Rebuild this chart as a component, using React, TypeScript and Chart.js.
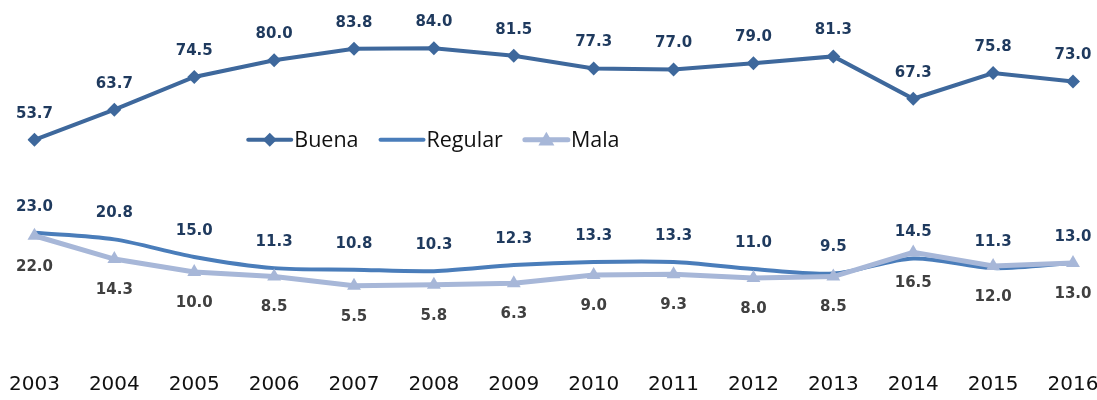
import React, { useEffect, useRef } from "react";
import { Chart, registerables } from "chart.js";

Chart.register(...registerables);

const years = ["2003", "2004", "2005", "2006", "2007", "2008", "2009", "2010", "2011", "2012", "2013", "2014", "2015", "2016"];
const buena = [53.7, 63.7, 74.5, 80.0, 83.8, 84.0, 81.5, 77.3, 77.0, 79.0, 81.3, 67.3, 75.8, 73.0];
const regular = [23.0, 20.8, 15.0, 11.3, 10.8, 10.3, 12.3, 13.3, 13.3, 11.0, 9.5, 14.5, 11.3, 13.0];
const mala = [22.0, 14.3, 10.0, 8.5, 5.5, 5.8, 6.3, 9.0, 9.3, 8.0, 8.5, 16.5, 12.0, 13.0];
const seriesNames = ["Buena", "Regular", "Mala"];

const BUENA_COLOR = "#3E689C";
const REGULAR_COLOR = "#4A7DBA";
const MALA_COLOR = "#A7B7D8";

const labelPlugin = {
  id: "valueLabels",
  afterDatasetsDraw(chart: any) {
    const ctx = chart.ctx;
    ctx.save();
    ctx.font = "bold 15px 'DejaVu Sans'";
    ctx.textAlign = "center";
    ctx.textBaseline = "middle";
    chart.data.datasets.forEach((ds: any, i: number) => {
      const meta = chart.getDatasetMeta(i);
      const below = ds.labelPos === "below";
      ctx.fillStyle = ds.labelColor;
      meta.data.forEach((pt: any, j: number) => {
        const v = ds.data[j] as number;
        const y = below ? pt.y + 31 : pt.y - 26;
        ctx.fillText(v.toFixed(1), pt.x, y);
      });
    });
    ctx.restore();
  },
};

const legendPlugin = {
  id: "customLegend",
  afterDraw(chart: any) {
    const ctx = chart.ctx;
    ctx.save();
    ctx.font = "21.5px 'Open Sans'";
    ctx.textBaseline = "middle";
    ctx.textAlign = "left";
    const lineLen = 43;
    const gapText = 3;
    const gapItem = 22;
    const items = chart.data.datasets.map((ds: any) => ({ ds, w: ctx.measureText(ds.label).width }));
    const total = items.reduce((s: number, it: any) => s + lineLen + gapText + it.w, 0) + gapItem * (items.length - 1);
    const xs = chart.scales.x;
    const cx = xs.getPixelForValue(5);
    const cy = chart.scales.y.getPixelForValue(53.7);
    let x = cx - total / 2;
    items.forEach((it: any) => {
      const ds = it.ds;
      ctx.strokeStyle = ds.borderColor;
      ctx.lineWidth = ds.borderWidth;
      ctx.lineCap = "round";
      ctx.beginPath();
      ctx.moveTo(x, cy);
      ctx.lineTo(x + lineLen, cy);
      ctx.stroke();
      const mx = x + lineLen / 2;
      ctx.fillStyle = ds.borderColor;
      if (ds.pointStyle === "rectRot") {
        const r = 7;
        ctx.beginPath();
        ctx.moveTo(mx, cy - r);
        ctx.lineTo(mx + r, cy);
        ctx.lineTo(mx, cy + r);
        ctx.lineTo(mx - r, cy);
        ctx.closePath();
        ctx.fill();
      } else if (ds.pointStyle === "triangle") {
        const r = 8;
        ctx.beginPath();
        ctx.moveTo(mx, cy - r);
        ctx.lineTo(mx + r, cy + r * 0.7);
        ctx.lineTo(mx - r, cy + r * 0.7);
        ctx.closePath();
        ctx.fill();
      }
      ctx.fillStyle = "#111111";
      ctx.fillText(ds.label, x + lineLen + gapText, cy + 1);
      x += lineLen + gapText + it.w + gapItem;
    });
    ctx.restore();
  },
};

export default function App() {
  const ref = useRef<HTMLCanvasElement | null>(null);

  useEffect(() => {
    if (!ref.current) return;
    const chart = new Chart(ref.current, {
      type: "line",
      data: {
        labels: years,
        datasets: [
          {
            label: seriesNames[0],
            data: buena,
            borderColor: BUENA_COLOR,
            backgroundColor: BUENA_COLOR,
            borderWidth: 4,
            pointStyle: "rectRot",
            pointRadius: 7,
            pointBorderWidth: 0,
            tension: 0,
            order: 2,
            labelColor: "#1F3A5E",
            labelPos: "above",
          } as any,
          {
            label: seriesNames[1],
            data: regular,
            borderColor: REGULAR_COLOR,
            backgroundColor: REGULAR_COLOR,
            borderWidth: 4,
            pointRadius: 0,
            tension: 0.3,
            order: 1,
            labelColor: "#1F3A5E",
            labelPos: "above",
          } as any,
          {
            label: seriesNames[2],
            data: mala,
            borderColor: MALA_COLOR,
            backgroundColor: MALA_COLOR,
            borderWidth: 5,
            pointStyle: "triangle",
            pointRadius: 8,
            pointBorderWidth: 0,
            tension: 0,
            order: 0,
            labelColor: "#404040",
            labelPos: "below",
          } as any,
        ],
      },
      options: {
        animation: false,
        responsive: false,
        maintainAspectRatio: false,
        layout: { padding: { left: 32, right: 47, top: 0, bottom: 3 } },
        plugins: {
          legend: { display: false },
          tooltip: { enabled: false },
        },
        scales: {
          x: {
            grid: { display: false, drawTicks: false },
            border: { display: false },
            ticks: {
              color: "#111111",
              font: { family: "'DejaVu Sans'", size: 20 },
              padding: 9,
              maxRotation: 0,
              autoSkip: false,
            },
          },
          y: {
            display: false,
            min: -20.4,
            max: 97.3,
          },
        },
      },
      plugins: [labelPlugin, legendPlugin],
    });
    return () => chart.destroy();
  }, []);

  return (
    <div style={{ position: "absolute", left: 0, top: 0, width: 1120, height: 409, background: "#ffffff" }}>
      <canvas ref={ref} width={1120} height={409} style={{ width: 1120, height: 409, display: "block" }} />
    </div>
  );
}
